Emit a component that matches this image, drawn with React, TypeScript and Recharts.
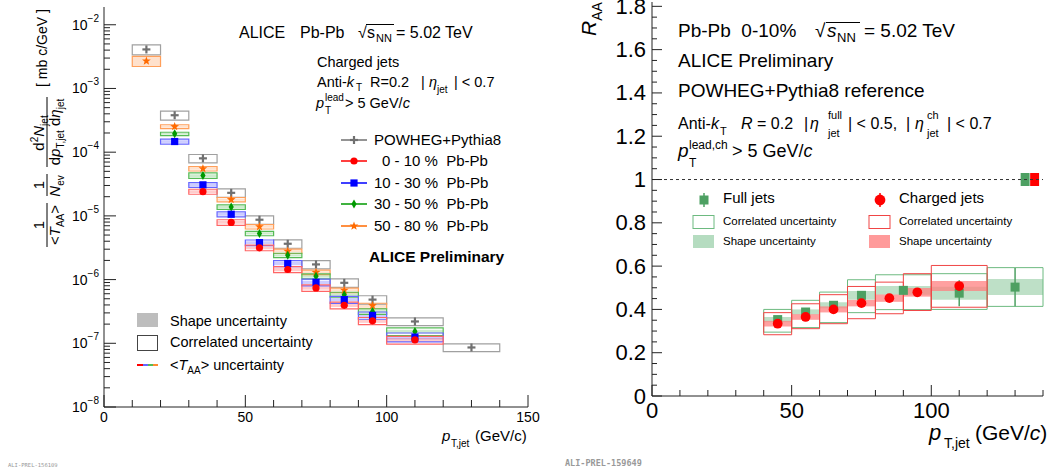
import React from 'react';
import {
  ComposedChart, Scatter, XAxis, YAxis,
  ReferenceArea, ReferenceLine, ErrorBar,
} from 'recharts';

const FONT = '"Liberation Sans", Arial, Helvetica, sans-serif';

// ---------- left panel: per-event jet yields (log scale) ----------
const binLo = [10, 20, 30, 40, 50, 60, 70, 80, 90, 100, 120];
const binHi = [20, 30, 40, 50, 60, 70, 80, 90, 100, 120, 140];
const binMid = [15, 25, 35, 45, 55, 65, 75, 85, 95, 110, 130];

const powheg = [4.1e-3, 3.8e-4, 8.0e-5, 2.3e-5, 8.7e-6, 3.65e-6, 1.73e-6, 8.9e-7, 4.85e-7, 2.2e-7, 8.6e-8];
const cent0010 = [null, null, 2.4e-5, 7.9e-6, 3.15e-6, 1.44e-6, 7.4e-7, 3.95e-7, 2.25e-7, 1.13e-7, null];
const cent1030 = [null, 1.47e-4, 3.07e-5, 1.06e-5, 3.8e-6, 1.79e-6, 9.06e-7, 4.84e-7, 2.74e-7, 1.25e-7, null];
const cent3050 = [null, 1.94e-4, 4.3e-5, 1.38e-5, 5.3e-6, 2.4e-6, 1.13e-6, 5.8e-7, 3.16e-7, 1.53e-7, null];
const cent5080 = [2.7e-3, 2.52e-4, 5.5e-5, 1.8e-5, 6.76e-6, 2.79e-6, 1.3e-6, 6.8e-7, 3.9e-7, null, null];

// relative uncertainties (correlated box, shape band)
const powhegCorr = [0.18, 0.16, 0.15, 0.15, 0.15, 0.15, 0.15, 0.15, 0.15, 0.14, 0.14];
const c0010Corr = [0, 0, 0.09, 0.1, 0.1, 0.11, 0.12, 0.12, 0.13, 0.14, 0];
const c0010Shape = [0, 0, 0.05, 0.05, 0.05, 0.06, 0.06, 0.06, 0.07, 0.07, 0];
const c1030Corr = [0, 0.09, 0.085, 0.09, 0.1, 0.11, 0.12, 0.125, 0.13, 0.16, 0];
const c1030Shape = [0, 0.05, 0.05, 0.05, 0.05, 0.06, 0.06, 0.06, 0.07, 0.08, 0];
const c3050Corr = [0, 0.06, 0.1, 0.08, 0.08, 0.08, 0.09, 0.09, 0.1, 0.14, 0];
const c3050Shape = [0, 0.03, 0.05, 0.04, 0.04, 0.04, 0.05, 0.05, 0.05, 0.07, 0];
const c5080Corr = [0.18, 0.07, 0.08, 0.08, 0.08, 0.08, 0.08, 0.08, 0.09, 0, 0];
const c5080Shape = [0.18, 0.04, 0.04, 0.04, 0.04, 0.04, 0.04, 0.04, 0.05, 0, 0];

// ---------- right panel: R_AA, 0-10% ----------
const fullLo = [40, 50, 60, 70, 80, 100, 120];
const fullHi = [50, 60, 70, 80, 100, 120, 140];
const fullX = [45, 55, 65, 75, 90, 110, 130];
const fullRaa = [0.353, 0.388, 0.419, 0.465, 0.488, 0.475, 0.503];
const fullStat = [0.008, 0.01, 0.012, 0.02, 0.015, 0.06, 0.088];
const fullCorrLo = [0.295, 0.316, 0.339, 0.385, 0.399, 0.4, 0.414];
const fullCorrHi = [0.4, 0.442, 0.48, 0.537, 0.56, 0.565, 0.593];
const fullShape = [0.012, 0.012, 0.014, 0.02, 0.02, 0.03, 0.037];

const chLo = [40, 50, 60, 70, 80, 90, 100];
const chHi = [50, 60, 70, 80, 90, 100, 120];
const chX = [45, 55, 65, 75, 85, 95, 110];
const chRaa = [0.334, 0.365, 0.4, 0.429, 0.452, 0.479, 0.508];
const chCorrLo = [0.283, 0.311, 0.334, 0.357, 0.38, 0.395, 0.41];
const chCorrHi = [0.385, 0.426, 0.468, 0.506, 0.526, 0.565, 0.603];
const chShape = [0.013, 0.013, 0.014, 0.015, 0.017, 0.02, 0.023];

// normalisation uncertainty boxes at R_AA = 1
const normFull = { lo: 132, hi: 135.2, err: 0.03 };
const normCh = { lo: 135.4, hi: 138.6, err: 0.03 };

const decades = [-8, -7, -6, -5, -4, -3, -2];
const logTicks = decades.flatMap((e) => [1, 2, 3, 4, 5, 6, 7, 8, 9].map((m) => m * Math.pow(10, e))).filter((v) => v <= 0.019);
const leftXTicks = Array.from({ length: 16 }, (_, i) => i * 10);
const rightXTicks = Array.from({ length: 15 }, (_, i) => i * 10);
const rightYTicks = Array.from({ length: 37 }, (_, i) => +(i * 0.05).toFixed(2));

type Kind = 'plus' | 'circle' | 'square' | 'diamond' | 'star';

function Marker({ kind, cx, cy, color, size = 1 }: { kind: Kind; cx: number; cy: number; color: string; size?: number }) {
  const s = size;
  switch (kind) {
    case 'plus':
      return (
        <g stroke={color} strokeWidth={2.2}>
          <line x1={cx - 4} x2={cx + 4} y1={cy} y2={cy} />
          <line x1={cx} x2={cx} y1={cy - 4} y2={cy + 4} />
        </g>
      );
    case 'circle':
      return <circle cx={cx} cy={cy} r={3.6 * s} fill={color} />;
    case 'square':
      return <rect x={cx - 3.6 * s} y={cy - 3.6 * s} width={7.2 * s} height={7.2 * s} fill={color} />;
    case 'diamond':
      return <polygon points={`${cx},${cy - 4.5} ${cx + 2.6},${cy} ${cx},${cy + 4.5} ${cx - 2.6},${cy}`} fill={color} />;
    default: {
      const pts: string[] = [];
      for (let k = 0; k < 10; k++) {
        const r = k % 2 === 0 ? 4.6 : 1.9;
        const a = -Math.PI / 2 + (k * Math.PI) / 5;
        pts.push(`${cx + r * Math.cos(a)},${cy + r * Math.sin(a)}`);
      }
      return <polygon points={pts.join(' ')} fill={color} />;
    }
  }
}

type Side = 'left' | 'right' | 'top' | 'bottom';
interface TickOpts {
  side: Side;
  isMajor: (v: number) => boolean;
  major: number;
  minor: number;
  label?: (v: number) => React.ReactNode;
  gap?: number;
  fontSize?: number;
}

const makeTick = (o: TickOpts) => (props: any) => {
  const { x, y, payload } = props;
  const v = payload.value;
  const maj = o.isMajor(v);
  const len = maj ? o.major : o.minor;
  let line = null;
  if (o.side === 'left') line = <line x1={x} x2={x + len} y1={y} y2={y} />;
  if (o.side === 'right') line = <line x1={x} x2={x - len} y1={y} y2={y} />;
  if (o.side === 'bottom') line = <line x1={x} x2={x} y1={y} y2={y - len} />;
  if (o.side === 'top') line = <line x1={x} x2={x} y1={y} y2={y + len} />;
  const lab = maj && o.label ? o.label(v) : null;
  const gap = o.gap ?? 6;
  return (
    <g>
      <g stroke="#222" strokeWidth={1}>{line}</g>
      {lab != null && o.side === 'left' && (
        <text x={x - gap} y={y} textAnchor="end" dominantBaseline="central" fontSize={o.fontSize} fontFamily={FONT} fill="#000">{lab}</text>
      )}
      {lab != null && o.side === 'bottom' && (
        <text x={x} y={y + gap} textAnchor="middle" fontSize={o.fontSize} fontFamily={FONT} fill="#000">{lab}</text>
      )}
    </g>
  );
};

const isDecade = (v: number) => Math.abs(Math.log10(v) - Math.round(Math.log10(v))) < 1e-6;
const logLabel = (v: number) => (
  <>
    <tspan>10</tspan>
    <tspan dy={-7} fontSize={10}>{'\u2212' + Math.abs(Math.round(Math.log10(v)))}</tspan>
  </>
);

const leftSeries = [
  { values: powheg, corr: powhegCorr, shape: null as number[] | null, color: '#707070', box: '#a0a0a0', kind: 'plus' as Kind },
  { values: cent5080, corr: c5080Corr, shape: c5080Shape, color: '#ff6a00', box: '#ff9f5a', kind: 'star' as Kind },
  { values: cent3050, corr: c3050Corr, shape: c3050Shape, color: '#009900', box: '#55bb55', kind: 'diamond' as Kind },
  { values: cent1030, corr: c1030Corr, shape: c1030Shape, color: '#0000ff', box: '#6666ff', kind: 'square' as Kind },
  { values: cent0010, corr: c0010Corr, shape: c0010Shape, color: '#ff0000', box: '#ff6666', kind: 'circle' as Kind },
];

const rowsOf = (s: typeof leftSeries[number]) =>
  binMid
    .map((x, i) => (s.values[i] == null ? null : { x, y: s.values[i] as number, lo: binLo[i], hi: binHi[i], c: s.corr[i], s: s.shape ? s.shape[i] : 0 }))
    .filter((r): r is { x: number; y: number; lo: number; hi: number; c: number; s: number } => r !== null);

const fullRows = fullX.map((x, i) => ({ x, y: fullRaa[i], err: fullStat[i] }));
const chRows = chX.map((x, i) => ({ x, y: chRaa[i] }));

function LeftChart() {
  return (
    <ComposedChart width={540} height={476} margin={{ top: 7, right: 12, bottom: 39, left: 0 }}>
      <XAxis dataKey="x" type="number" domain={[0, 150]} allowDataOverflow ticks={leftXTicks} interval={0}
        tickSize={0} tickMargin={0} axisLine={{ stroke: '#222' }} tickLine={false} height={30}
        tick={makeTick({ side: 'bottom', isMajor: (v) => v % 50 === 0, major: 12, minor: 7, label: (v) => String(v), gap: 15, fontSize: 14 })} />
      <XAxis xAxisId="top" orientation="top" type="number" domain={[0, 150]} allowDataOverflow ticks={leftXTicks} interval={0}
        tickSize={0} tickMargin={0} axisLine={{ stroke: '#222' }} tickLine={false} height={0}
        tick={makeTick({ side: 'top', isMajor: (v) => v % 50 === 0, major: 12, minor: 7 })} />
      <YAxis dataKey="y" type="number" scale="log" domain={[1e-8, 0.019]} allowDataOverflow ticks={logTicks} interval={0}
        tickSize={0} tickMargin={0} axisLine={{ stroke: '#222' }} tickLine={false} width={104}
        tick={makeTick({ side: 'left', isMajor: isDecade, major: 12, minor: 6, label: logLabel, gap: 5, fontSize: 14 })} />
      <YAxis yAxisId="r" orientation="right" type="number" scale="log" domain={[1e-8, 0.019]} allowDataOverflow ticks={logTicks} interval={0}
        tickSize={0} tickMargin={0} axisLine={{ stroke: '#222' }} tickLine={false} width={0}
        tick={makeTick({ side: 'right', isMajor: isDecade, major: 12, minor: 6 })} />

      {leftSeries.flatMap((s, si) =>
        rowsOf(s).filter((r) => r.s > 0).map((r, i) => (
          <ReferenceArea key={`sh${si}-${i}`} x1={r.lo} x2={r.hi} y1={r.y * (1 - r.s)} y2={r.y * (1 + r.s)}
            fill={s.color} fillOpacity={0.2} stroke="none" />
        )))}
      {leftSeries.flatMap((s, si) =>
        rowsOf(s).map((r, i) => (
          <ReferenceArea key={`co${si}-${i}`} x1={r.lo} x2={r.hi} y1={r.y * (1 - r.c)} y2={r.y * (1 + r.c)}
            fill="none" stroke={s.box} strokeWidth={1.2} />
        )))}
      {leftSeries.map((s, si) => (
        <Scatter key={`sc${si}`} data={rowsOf(s)} isAnimationActive={false}
          shape={(p: any) => <Marker kind={s.kind} cx={p.cx} cy={p.cy} color={s.color} />} />
      ))}
    </ComposedChart>
  );
}

function RightChart() {
  const green = '#4da062';
  const red = '#ff0000';
  return (
    <ComposedChart width={489} height={476} margin={{ top: 2, right: 6, bottom: 50, left: 0 }}>
      <XAxis dataKey="x" type="number" domain={[0, 140]} allowDataOverflow ticks={rightXTicks} interval={0}
        tickSize={0} tickMargin={0} axisLine={{ stroke: '#222' }} tickLine={false} height={30}
        tick={makeTick({ side: 'bottom', isMajor: (v) => v % 50 === 0, major: 11, minor: 6, label: (v) => String(v), gap: 22, fontSize: 22 })} />
      <YAxis dataKey="y" type="number" domain={[0, 1.82]} allowDataOverflow ticks={rightYTicks} interval={0}
        tickSize={0} tickMargin={0} axisLine={{ stroke: '#222' }} tickLine={false} width={92}
        tick={makeTick({
          side: 'left', isMajor: (v) => Math.abs(v / 0.2 - Math.round(v / 0.2)) < 1e-6, major: 10, minor: 5,
          label: (v) => String(+v.toFixed(1)), gap: 6, fontSize: 22,
        })} />
      <YAxis yAxisId="r" orientation="right" type="number" domain={[0, 1.82]} allowDataOverflow tick={false}
        axisLine={{ stroke: '#222' }} tickLine={false} width={0} />

      <ReferenceLine y={1} stroke="#333" strokeDasharray="3 3" strokeWidth={1} />
      <ReferenceArea x1={normFull.lo} x2={normFull.hi} y1={1 - normFull.err} y2={1 + normFull.err} fill={green} fillOpacity={1} stroke="none" />
      <ReferenceArea x1={normCh.lo} x2={normCh.hi} y1={1 - normCh.err} y2={1 + normCh.err} fill={red} fillOpacity={1} stroke="none" />

      {fullX.map((_, i) => (
        <ReferenceArea key={`fs${i}`} x1={fullLo[i]} x2={fullHi[i]} y1={fullRaa[i] - fullShape[i]} y2={fullRaa[i] + fullShape[i]}
          fill="#a8d5b4" fillOpacity={0.75} stroke="none" />
      ))}
      {fullX.map((_, i) => (
        <ReferenceArea key={`fc${i}`} x1={fullLo[i]} x2={fullHi[i]} y1={fullCorrLo[i]} y2={fullCorrHi[i]}
          fill="none" stroke="#6dba80" strokeWidth={1} />
      ))}
      <Scatter data={fullRows} isAnimationActive={false}
        shape={(p: any) => <Marker kind="square" cx={p.cx} cy={p.cy} color={green} size={1.25} />}>
        <ErrorBar dataKey="err" direction="y" width={0} stroke={green} strokeWidth={1.5} />
      </Scatter>

      {chX.map((_, i) => (
        <ReferenceArea key={`cs${i}`} x1={chLo[i]} x2={chHi[i]} y1={chRaa[i] - chShape[i]} y2={chRaa[i] + chShape[i]}
          fill="#ff8080" fillOpacity={0.75} stroke="none" />
      ))}
      {chX.map((_, i) => (
        <ReferenceArea key={`cc${i}`} x1={chLo[i]} x2={chHi[i]} y1={chCorrLo[i]} y2={chCorrHi[i]}
          fill="none" stroke="#f04545" strokeWidth={1} />
      ))}
      <Scatter data={chRows} isAnimationActive={false}
        shape={(p: any) => <Marker kind="circle" cx={p.cx} cy={p.cy} color={red} size={1.35} />} />
    </ComposedChart>
  );
}

const it = { fontStyle: 'italic' as const };
const pre = { whiteSpace: 'pre' as const };

function Overlay() {
  return (
    <svg width={1049} height={476} style={{ position: 'absolute', left: 0, top: 0, pointerEvents: 'none' }} fontFamily={FONT} fill="#000">
      {/* left y-axis title */}
      <g transform="translate(47,0) rotate(-90)" fontSize={15}>
        <text x={-48} y={0} textAnchor="middle" fontSize={14} style={pre}>[ mb c/GeV ]</text>
        <text x={-133} y={-3} textAnchor="middle">d<tspan dy={-6} fontSize={10}>2</tspan><tspan dy={6} style={it}>N</tspan><tspan dy={4} fontSize={10}>jet</tspan></text>
        <line x1={-167} x2={-97} y1={0} y2={0} stroke="#000" strokeWidth={1} />
        <text x={-132} y={13} textAnchor="middle">d<tspan style={it}>p</tspan><tspan dy={4} fontSize={10}>T,jet</tspan><tspan dy={-4}> d</tspan><tspan style={it}>η</tspan><tspan dy={4} fontSize={10}>jet</tspan></text>
        <text x={-185} y={-3} textAnchor="middle">1</text>
        <line x1={-196} x2={-174} y1={0} y2={0} stroke="#000" strokeWidth={1} />
        <text x={-186} y={13} textAnchor="middle"><tspan style={it}>N</tspan><tspan dy={4} fontSize={10}>ev</tspan></text>
        <text x={-225} y={-3} textAnchor="middle">1</text>
        <line x1={-247} x2={-203} y1={0} y2={0} stroke="#000" strokeWidth={1} />
        <text x={-225} y={13} textAnchor="middle">&lt;<tspan style={it}>T</tspan><tspan dy={4} fontSize={10}>AA</tspan><tspan dy={-4}>&gt;</tspan></text>
      </g>

      {/* left header */}
      <g fontSize={16}>
        <text x={239} y={38}>ALICE</text>
        <text x={300} y={38}>Pb-Pb</text>
        <text x={358} y={38}>√</text>
        <line x1={366} x2={394} y1={24.5} y2={24.5} stroke="#000" strokeWidth={1} />
        <text x={367} y={38}>s</text>
        <text x={376} y={42} fontSize={11}>NN</text>
        <text x={396} y={38}>= 5.02 TeV</text>
      </g>
      <g fontSize={14.5}>
        <text x={317} y={67}>Charged jets</text>
        <text x={317} y={87}>Anti-<tspan style={it}>k</tspan></text>
        <text x={356} y={91} fontSize={10}>T</text>
        <text x={370} y={87}>R=0.2</text>
        <text x={421} y={87}>|</text>
        <text x={429} y={87} style={it}>η</text>
        <text x={437} y={93} fontSize={10}>jet</text>
        <text x={454} y={87} style={pre}>| &lt; 0.7</text>
        <text x={316} y={108} style={it}>p</text>
        <text x={325} y={101} fontSize={10}>lead</text>
        <text x={325} y={114} fontSize={10}>T</text>
        <text x={345} y={108}>&gt; 5 GeV/<tspan style={it}>c</tspan></text>
      </g>

      {/* left legend */}
      {[
        { y: 140, color: '#707070', kind: 'plus' as Kind, text: 'POWHEG+Pythia8', tx: 374 },
        { y: 161, color: '#ff0000', kind: 'circle' as Kind, text: '0 - 10 %  Pb-Pb', tx: 382 },
        { y: 183, color: '#0000ff', kind: 'square' as Kind, text: '10 - 30 %  Pb-Pb', tx: 374 },
        { y: 204, color: '#009900', kind: 'diamond' as Kind, text: '30 - 50 %  Pb-Pb', tx: 374 },
        { y: 226, color: '#ff6a00', kind: 'star' as Kind, text: '50 - 80 %  Pb-Pb', tx: 374 },
      ].map((e) => (
        <g key={e.text}>
          <line x1={341} x2={367} y1={e.y} y2={e.y} stroke={e.color} strokeWidth={1.5} />
          <Marker kind={e.kind} cx={354} cy={e.y} color={e.color} />
          <text x={e.tx} y={e.y + 5} fontSize={15} style={pre}>{e.text}</text>
        </g>
      ))}
      <text x={369} y={262} fontSize={15.5} fontWeight="bold">ALICE Preliminary</text>

      <rect x={137} y={313} width={21} height={14} fill="#bdbdbd" />
      <text x={170} y={326} fontSize={14.5}>Shape uncertainty</text>
      <rect x={137.5} y={335.5} width={20} height={15} fill="none" stroke="#444" strokeWidth={1} />
      <text x={170} y={347} fontSize={14.5}>Correlated uncertainty</text>
      <line x1={137} x2={143} y1={365} y2={365} stroke="#ff0000" strokeWidth={2} />
      <line x1={143} x2={148} y1={365} y2={365} stroke="#6666ff" strokeWidth={2} />
      <line x1={148} x2={153} y1={365} y2={365} stroke="#55bb55" strokeWidth={2} />
      <line x1={153} x2={158} y1={365} y2={365} stroke="#ff8c30" strokeWidth={2} />
      <text x={170} y={370} fontSize={14.5}>&lt;<tspan style={it}>T</tspan><tspan dy={4} fontSize={10}>AA</tspan><tspan dy={-4}>&gt; uncertainty</tspan></text>

      {/* left x title */}
      <text x={442} y={441} fontSize={15} style={it}>p</text>
      <text x={451} y={447} fontSize={10}>T,jet</text>
      <text x={475} y={441} fontSize={15}>(GeV/c)</text>
      <text x={8} y={467} fontSize={5.5} fill="#999" fontFamily='"DejaVu Sans Mono", monospace'>ALI-PREL-156109</text>

      {/* right panel texts */}
      <text transform="translate(596,36) rotate(-90)" fontSize={21}><tspan style={it}>R</tspan><tspan dy={6} fontSize={14}>AA</tspan></text>
      <g fontSize={19}>
        <text x={678} y={37} style={pre}>Pb-Pb  0-10%</text>
        <text x={815} y={37}>√</text>
        <line x1={826} x2={860} y1={22.5} y2={22.5} stroke="#000" strokeWidth={1} />
        <text x={827} y={37} style={it}>s</text>
        <text x={837} y={42} fontSize={13}>NN</text>
        <text x={864} y={37}>= 5.02 TeV</text>
        <text x={678} y={67}>ALICE Preliminary</text>
        <text x={678} y={97}>POWHEG+Pythia8 reference</text>
      </g>
      <g fontSize={16}>
        <text x={678} y={129}>Anti-<tspan style={it}>k</tspan></text>
        <text x={720} y={135} fontSize={11}>T</text>
        <text x={741} y={129}><tspan style={it}>R</tspan> = 0.2</text>
        <text x={804} y={129}>|</text>
        <text x={810} y={129} style={it}>η</text>
        <text x={828} y={119} fontSize={11}>full</text>
        <text x={828} y={137} fontSize={11}>jet</text>
        <text x={848} y={129} style={pre}>| &lt; 0.5,  |</text>
        <text x={915} y={129} style={it}>η</text>
        <text x={927} y={119} fontSize={11}>ch</text>
        <text x={927} y={137} fontSize={11}>jet</text>
        <text x={947} y={129} style={pre}>| &lt; 0.7</text>
        <text x={678} y={157} fontSize={19} style={it}>p</text>
        <text x={689} y={149} fontSize={12}>lead,ch</text>
        <text x={689} y={167} fontSize={12}>T</text>
        <text x={732} y={157} fontSize={18}>&gt; 5 GeV/<tspan style={it}>c</tspan></text>
      </g>

      {/* right legend */}
      <line x1={704} x2={704} y1={193} y2={207} stroke="#4da062" strokeWidth={1.5} />
      <Marker kind="square" cx={704} cy={200} color="#4da062" size={1.25} />
      <text x={723} y={203} fontSize={15}>Full jets</text>
      <line x1={880} x2={880} y1={193} y2={207} stroke="#ff0000" strokeWidth={1.5} />
      <Marker kind="circle" cx={880} cy={200} color="#ff0000" size={1.5} />
      <text x={899} y={203} fontSize={15}>Charged jets</text>
      <rect x={693} y={215.5} width={21} height={13} fill="none" stroke="#6dba80" />
      <text x={723} y={225} fontSize={11.5}>Correlated uncertainty</text>
      <rect x={869} y={215.5} width={21} height={13} fill="none" stroke="#f04545" />
      <text x={899} y={225} fontSize={11.5}>Correlated uncertainty</text>
      <rect x={693} y={235} width={21} height={13} fill="#b5dcc0" />
      <text x={723} y={245} fontSize={11.5}>Shape uncertainty</text>
      <rect x={869} y={235} width={21} height={13} fill="#ff9a9a" />
      <text x={899} y={245} fontSize={11.5}>Shape uncertainty</text>

      {/* right x title */}
      <text x={929} y={440} fontSize={22} style={it}>p</text>
      <text x={944} y={448} fontSize={14}>T,jet</text>
      <text x={975} y={440} fontSize={21}>(GeV/<tspan style={it}>c</tspan>)</text>
      <text x={565} y={466} fontSize={8.5} fill="#999" fontWeight="bold" fontFamily='"DejaVu Sans Mono", monospace'>ALI-PREL-159649</text>
    </svg>
  );
}

export default function App() {
  return (
    <div style={{ position: 'absolute', left: 0, top: 0, width: 1049, height: 476, background: '#fff', fontFamily: FONT }}>
      <div style={{ position: 'absolute', left: 0, top: 0 }}>
        <LeftChart />
      </div>
      <div style={{ position: 'absolute', left: 560, top: 0 }}>
        <RightChart />
      </div>
      <Overlay />
    </div>
  );
}
